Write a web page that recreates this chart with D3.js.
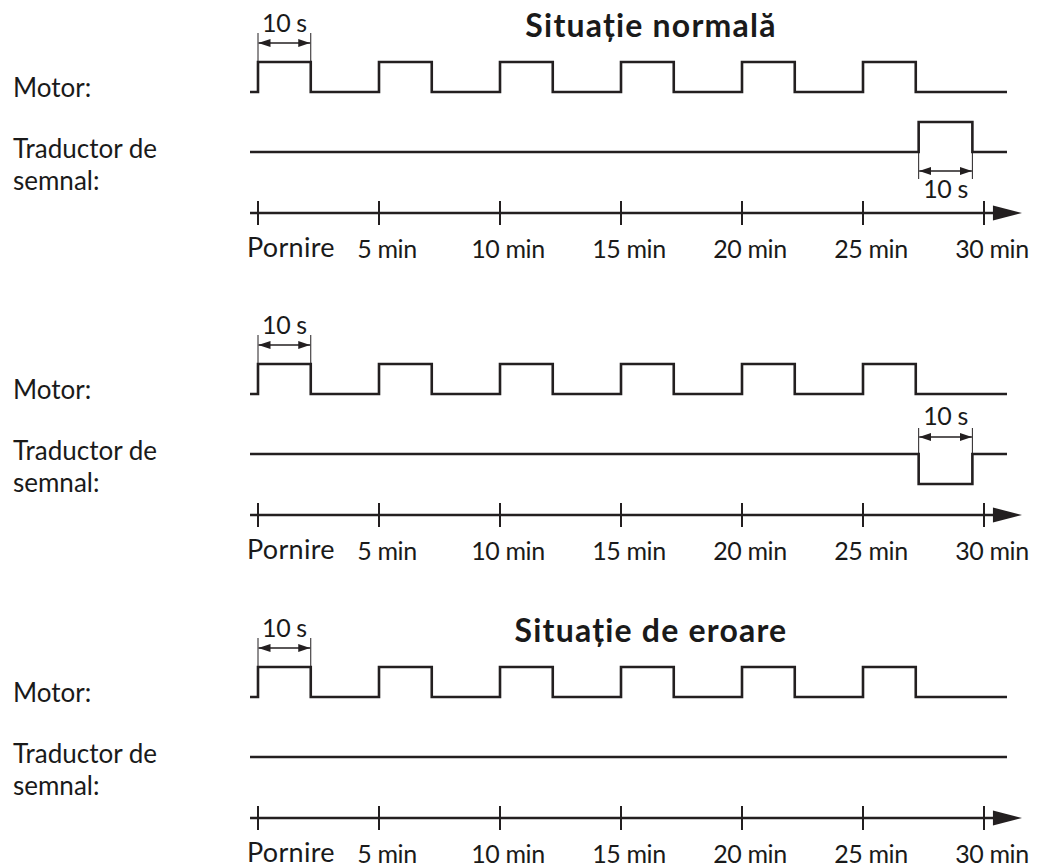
<!DOCTYPE html>
<html>
<head>
<meta charset="utf-8">
<script src="https://cdn.jsdelivr.net/npm/d3@7"></script>
<style>
  html, body { margin: 0; padding: 0; background: #fff; }
  svg { display: block; }
  text { font-family: Lato, "Open Sans", sans-serif; fill: #1a1a1a; }
</style>
</head>
<body>
<div id="chart"></div>
<script>
// ---------- data ----------
const panelTitles = ["Situație normală", "", "Situație de eroare"];
const rowLabelsMotor = ["Motor:"];
const rowLabelsSignal = ["Traductor de", "semnal:"];
const timeTicks = [0, 5, 10, 15, 20, 25, 30];            // minutes
const tickLabels = ["Pornire", "5 min", "10 min", "15 min", "20 min", "25 min", "30 min"];
const motorPulseStarts = [0, 5, 10, 15, 20, 25];         // minutes
const motorPulseWidth = 2.18;                             // drawn width of a 10 s pulse (min, not to scale)
const signalPulseStart = [27.3, 27.3, null];              // per panel
const signalPulseWidth = 2.22;
const signalPolarity = [1, -1, 0];                        // +1 up, -1 down, 0 none
const durationLabel = "10 s";
const trackDomain = [-0.33, 30.95];                       // where the signal lines start / end

// ---------- layout ----------
const W = 1040, H = 867;
const panelOffsets = [0, 302, 605];
const x = d3.scaleLinear().domain([0, 30]).range([258, 984]);

const svg = d3.select("#chart").append("svg")
  .attr("width", W).attr("height", H);
svg.append("rect").attr("width", W).attr("height", H).attr("fill", "#fff");

const ink = "#231f20";

const defs = svg.append("defs");
defs.append("marker")
  .attr("id", "dimArrow")
  .attr("viewBox", "0 0 12 8")
  .attr("refX", 12).attr("refY", 4)
  .attr("markerWidth", 12).attr("markerHeight", 8)
  .attr("markerUnits", "userSpaceOnUse")
  .attr("orient", "auto-start-reverse")
  .append("path").attr("d", "M0,0 L12,4 L0,8 Z").attr("fill", ink);

function pulsePoints(starts, width, amp) {
  const pts = [[trackDomain[0], 0]];
  starts.forEach(s => {
    pts.push([s, 0], [s, amp], [s + width, amp], [s + width, 0]);
  });
  pts.push([trackDomain[1], 0]);
  return pts;
}

function dimension(g, x0, x1, yLine, yArrow, yExtEnd, yText) {
  g.selectAll(null).data([x0, x1]).join("line")
    .attr("x1", d => x(d)).attr("x2", d => x(d))
    .attr("y1", yLine).attr("y2", yExtEnd)
    .attr("stroke", ink).attr("stroke-width", 1);
  g.append("line")
    .attr("x1", x(x0) + 0.5).attr("x2", x(x1) - 0.5)
    .attr("y1", yArrow).attr("y2", yArrow)
    .attr("stroke", ink).attr("stroke-width", 1.3)
    .attr("marker-start", "url(#dimArrow)")
    .attr("marker-end", "url(#dimArrow)");
  g.append("text")
    .attr("x", x((x0 + x1) / 2)).attr("y", yText)
    .attr("text-anchor", "middle")
    .attr("font-size", 25).attr("letter-spacing", -0.4)
    .text(durationLabel);
}

panelOffsets.forEach((off, i) => {
  const g = svg.append("g").attr("transform", `translate(0,${off})`);

  // title
  if (panelTitles[i]) {
    g.append("text")
      .attr("x", 651).attr("y", 37)
      .attr("text-anchor", "middle")
      .attr("font-size", 32).attr("font-weight", "bold")
      .attr("letter-spacing", 1.2)
      .text(panelTitles[i]);
  }

  // row labels
  g.append("text").attr("x", 13).attr("y", 97).attr("font-size", 26).text(rowLabelsMotor[0]);
  g.selectAll(null).data(rowLabelsSignal).join("text")
    .attr("x", 13).attr("y", (d, k) => 158 + k * 32)
    .attr("font-size", 26).text(d => d);

  // motor track
  const yMotor = d3.scaleLinear().domain([0, 1]).range([92, 62]);
  const motorLine = d3.line().x(d => x(d[0])).y(d => yMotor(d[1]));
  g.append("path")
    .attr("d", motorLine(pulsePoints(motorPulseStarts, motorPulseWidth, 1)))
    .attr("fill", "none").attr("stroke", ink).attr("stroke-width", 2.6)
    .attr("stroke-linejoin", "miter");

  // dimension over first motor pulse
  dimension(g, motorPulseStarts[0], motorPulseStarts[0] + motorPulseWidth, 62, 43, 33, 32);

  // signal track
  const ySig = d3.scaleLinear().domain([0, 1]).range([152, 122]);
  const sigLine = d3.line().x(d => x(d[0])).y(d => ySig(d[1]));
  const sigStarts = signalPulseStart[i] === null ? [] : [signalPulseStart[i]];
  g.append("path")
    .attr("d", sigLine(pulsePoints(sigStarts, signalPulseWidth, signalPolarity[i])))
    .attr("fill", "none").attr("stroke", ink).attr("stroke-width", 2.6);

  if (signalPolarity[i] === 1) {
    const s = signalPulseStart[i];
    dimension(g, s, s + signalPulseWidth, 152, 171, 179, 198);
  } else if (signalPolarity[i] === -1) {
    const s = signalPulseStart[i];
    dimension(g, s, s + signalPulseWidth, 152, 135, 126, 123);
  }

  // time axis
  const yAxis = 213;
  g.append("line")
    .attr("x1", x(trackDomain[0])).attr("x2", x(30.5))
    .attr("y1", yAxis).attr("y2", yAxis)
    .attr("stroke", ink).attr("stroke-width", 2.6);
  g.append("path")
    .attr("d", `M${x(30.37)},${yAxis - 7.5} L${x(31.57)},${yAxis} L${x(30.37)},${yAxis + 7.5} Z`)
    .attr("fill", ink);
  g.selectAll(null).data(timeTicks).join("line")
    .attr("x1", d => x(d)).attr("x2", d => x(d))
    .attr("y1", yAxis - 12).attr("y2", yAxis + 12)
    .attr("stroke", ink).attr("stroke-width", 2);
  g.selectAll(null).data(timeTicks).join("text")
    .attr("x", (d, k) => k === 0 ? x(d) - 11 : x(d) + 8)
    .attr("y", (d, k) => k === 0 ? 257 : 258)
    .attr("text-anchor", (d, k) => k === 0 ? "start" : "middle")
    .attr("font-size", (d, k) => k === 0 ? 27 : 25)
    .attr("letter-spacing", (d, k) => k === 0 ? 0.3 : -0.4)
    .text((d, k) => tickLabels[k]);
});
</script>
</body>
</html>
